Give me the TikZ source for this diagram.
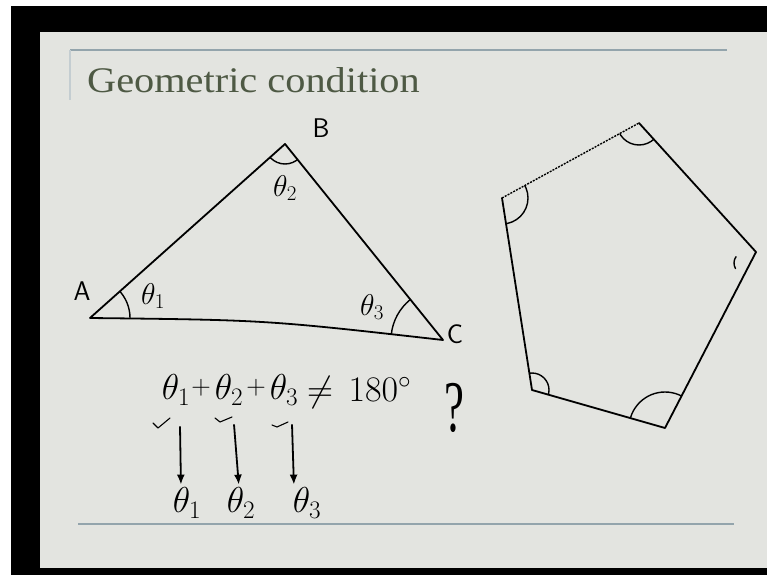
\RequirePackage{fix-cm}
\documentclass[tikz,border=0pt]{standalone}
\usepackage{amsmath,amssymb}
\usepackage{fontspec}
\setmainfont{Liberation Serif}
\usetikzlibrary{arrows.meta,positioning}
\definecolor{slide}{HTML}{E3E4E0}
\definecolor{rulec}{HTML}{93A4AC}
\definecolor{titlec}{HTML}{4E5944}
\tikzset{ink/.style={line width=1.8pt,line cap=round,line join=round},
 arc/.style={line width=1.4pt,line cap=round},
 hw/.style={inner sep=0pt,font=\fontsize{36}{38}\selectfont},
 sm/.style={inner sep=0pt,font=\fontsize{30}{32}\selectfont},
 lt/.style={inner sep=0pt,font=\sffamily\fontsize{27}{29}\selectfont},
 flow/.style={-{Latex[length=10pt,width=8pt]},line width=1.8pt,shorten >=3pt},
 chk/.style={line width=1.1pt,line cap=round,line join=round},
 hrule/.style={rulec,line width=2pt}}

\begin{document}
\begin{tikzpicture}[x=1pt,y=-1pt]
\useasboundingbox (0,0) rectangle (767,575);
\fill[white] (0,0) rectangle (767,575);
\fill[black] (11,6) rectangle (767,575);
\fill[slide] (40,32) rectangle (767,568);
% slide frame
\draw[hrule] (70,50) -- (727,50);
\draw[rulec!55,line width=1.2pt] (70,50) -- (70,100);
\draw[hrule] (78,524) -- (734,524);
\node[anchor=base west,text=titlec,inner sep=0pt,font=\fontsize{36}{40}\selectfont] (title) at (87,93) {\scalebox{1.12}[1]{Geometric condition}};
% triangle
\coordinate (A) at (90,318);
\coordinate (B) at (285,144);
\coordinate (C) at (443,340);
\draw[ink] (A) -- (B) -- (C) .. controls (266,320) .. (A);
\begin{scope}
\clip (A) -- (B) -- (C) .. controls (266,320) .. (A) -- cycle;
\draw[arc] (A) circle[radius=40] (B) circle[radius=20] (C) circle[radius=52];
\end{scope}
\node[lt] (nA) at (82,291) {A};
\node[lt] (nB) at (321,128) {B};
\node[lt] (nC) at (455,334) {C};
\node[sm] (a1) at (153,296) {$\theta_1$};
\node[sm] (a2) at (285,188) {$\theta_2$};
\node[sm] (a3) at (372,307) {$\theta_3$};
% sum of angles
\node[hw] (t1) at (176,390) {$\theta_1$};
\node[hw,font=\fontsize{27}{29}\selectfont] (p1) at (201,388) {$+$};
\node[hw] (t2) at (229,390) {$\theta_2$};
\node[hw,font=\fontsize{27}{29}\selectfont] (p2) at (256,388) {$+$};
\node[hw] (t3) at (284,390) {$\theta_3$};
\node[hw] (ne) at (320,392) {$\neq$};
\node[hw] (deg) at (380,389) {$180^\circ$};
\node[inner sep=0pt,font=\fontsize{56}{56}\selectfont] (q) at (454,408) {\scalebox{0.8}[1.3]{?}};
\draw[chk] (153,423) -- (158,428) -- (170,418);
\draw[chk] (215,418) -- (220,422) -- (232,417);
\draw[chk] (272,425) -- (277,427) -- (288,422);
\node[hw] (b1) at (187,503) {$\theta_1$};
\node[hw] (b2) at (241,503) {$\theta_2$};
\node[hw] (b3) at (307,503) {$\theta_3$};
\draw[flow] ([xshift=4pt,yshift=-21pt]t1.south) -- ([xshift=-6pt]b1.north);
\draw[flow] ([xshift=5pt,yshift=-19pt]t2.south) -- ([xshift=-2pt]b2.north);
\draw[flow] ([xshift=8pt,yshift=-19pt]t3.south) -- ([xshift=-13pt]b3.north);
% pentagon
\coordinate (P1) at (639,123);
\coordinate (P2) at (756,252);
\coordinate (P3) at (665,428);
\coordinate (P4) at (532,390);
\coordinate (P5) at (502,198);
\draw[ink] (P1) -- (P2) -- (P3) -- (P4) -- (P5);
\draw[ink,line width=1.4pt,line cap=butt,dash pattern=on 2pt off 1.2pt] (P5) -- (P1);
\begin{scope}
\clip (P1) -- (P2) -- (P3) -- (P4) -- (P5) -- cycle;
\draw[arc] (P1) circle[radius=22] (P5) circle[radius=26] (P4) circle[radius=17] (P3) circle[radius=36];
\end{scope}
\draw[arc] (745,263) ++(150:11) arc[start angle=150,end angle=215,radius=11];
\end{tikzpicture}
\end{document}
